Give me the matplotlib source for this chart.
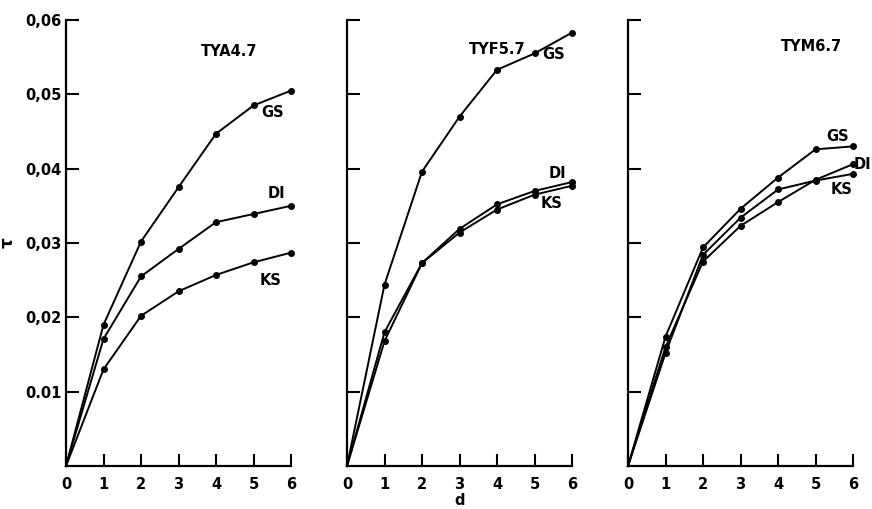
import matplotlib
matplotlib.use("Agg")
import matplotlib.pyplot as plt

d = [0, 1, 2, 3, 4, 5, 6]

panels = ["TYA4.7", "TYF5.7", "TYM6.7"]

tya_gs = [0.0, 0.0190, 0.0302, 0.0375, 0.0447, 0.0485, 0.0505]
tya_di = [0.0, 0.0171, 0.0255, 0.0292, 0.0328, 0.0339, 0.0350]
tya_ks = [0.0, 0.0130, 0.0202, 0.0235, 0.0257, 0.0274, 0.0287]

tyf_gs = [0.0, 0.0244, 0.0396, 0.0470, 0.0533, 0.0555, 0.0583]
tyf_di = [0.0, 0.0168, 0.0273, 0.0319, 0.0352, 0.0370, 0.0382]
tyf_ks = [0.0, 0.0180, 0.0273, 0.0314, 0.0345, 0.0365, 0.0377]

tym_gs = [0.0, 0.0174, 0.0294, 0.0346, 0.0388, 0.0426, 0.0430]
tym_di = [0.0, 0.0160, 0.0275, 0.0323, 0.0355, 0.0385, 0.0406]
tym_ks = [0.0, 0.0152, 0.0284, 0.0334, 0.0372, 0.0384, 0.0393]

yticks = [0.01, 0.02, 0.03, 0.04, 0.05, 0.06]
ytick_labels = ["0.01", "0,02", "0,03", "0,04", "0,05", "0,06"]

series = [
    [tya_gs, tya_di, tya_ks],
    [tyf_gs, tyf_di, tyf_ks],
    [tym_gs, tym_di, tym_ks],
]

# label positions (data coords) for GS, DI, KS and panel title
label_pos = [
    {"title": (4.35, 0.0558), "GS": (5.5, 0.0475), "DI": (5.6, 0.0367), "KS": (5.45, 0.0250)},
    {"title": (4.0, 0.0560), "GS": (5.5, 0.0553), "DI": (5.6, 0.0394), "KS": (5.45, 0.0353)},
    {"title": (4.9, 0.0564), "GS": (5.6, 0.0443), "DI": (6.25, 0.0405), "KS": (5.7, 0.0372)},
]

plt.rcParams["font.family"] = ["DejaVu Sans"]
fig = plt.figure(figsize=(8.72, 5.09), dpi=100)

lefts = [66 / 872, 347 / 872, 628 / 872]
width = 225 / 872
bottom = 1 - 466 / 509
height = 446 / 509

for i in range(3):
    ax = fig.add_axes([lefts[i], bottom, width, height])
    ax.set_xlim(0, 6)
    ax.set_ylim(0, 0.06)
    for sp in ["top", "right"]:
        ax.spines[sp].set_visible(False)
    for sp in ["left", "bottom"]:
        ax.spines[sp].set_linewidth(1.6)
    for s in series[i]:
        ax.plot(d, s, color="black", lw=1.4, marker="o", ms=4,
                markevery=list(range(1, 7)), clip_on=False)
    ax.set_xticks(d)
    ax.set_xticklabels([str(v) for v in d], fontsize=10.5, fontweight="bold")
    ax.set_yticks(yticks)
    if i == 0:
        ax.set_yticklabels(ytick_labels, fontsize=10.5, fontweight="bold")
        ax.set_ylabel("τ", fontsize=12, fontweight="bold", rotation=90)
        ax.yaxis.set_label_coords(-0.22, 0.5)
    else:
        ax.set_yticklabels([])
    ax.tick_params(axis="both", direction="in", length=9, width=1.5)
    ax.tick_params(axis="x", pad=8)
    ax.tick_params(axis="y", pad=3)
    lp = label_pos[i]
    ax.text(*lp["title"], panels[i], fontsize=10.5, fontweight="bold", ha="center", va="center")
    for name in ["GS", "DI", "KS"]:
        ax.text(*lp[name], name, fontsize=10.5, fontweight="bold", ha="center", va="center",
                clip_on=False)
    if i == 1:
        ax.set_xlabel("d", fontsize=10.5, fontweight="bold", va="bottom")
        ax.xaxis.set_label_coords(0.5, -0.094)

fig.savefig("out.png", dpi=100)
